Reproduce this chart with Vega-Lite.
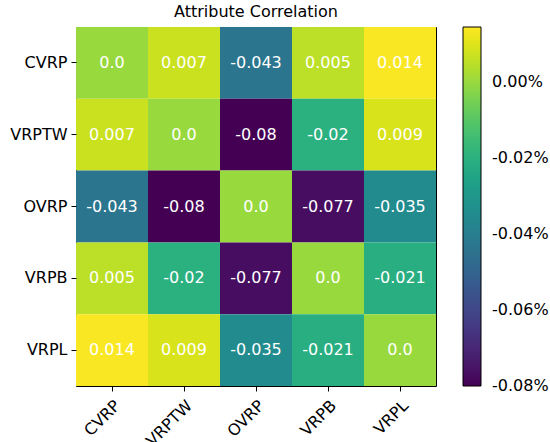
{
  "$schema": "https://vega.github.io/schema/vega-lite/v6.json",
  "width": 360,
  "height": 359,
  "autosize": "none",
  "padding": {"left": 76, "top": 27, "right": 114, "bottom": 56},
  "title": {"text": "Attribute Correlation", "fontSize": 16, "fontWeight": "normal", "font": "DejaVu Sans", "color": "black", "offset": 7},
  "config": {
    "font": "DejaVu Sans",
    "view": {"stroke": "black", "strokeWidth": 1}
  },
  "data": {
    "values": [
      {"row": "CVRP", "col": "CVRP", "v": 0.0},
      {"row": "CVRP", "col": "VRPTW", "v": 0.007},
      {"row": "CVRP", "col": "OVRP", "v": -0.043},
      {"row": "CVRP", "col": "VRPB", "v": 0.005},
      {"row": "CVRP", "col": "VRPL", "v": 0.014},
      {"row": "VRPTW", "col": "CVRP", "v": 0.007},
      {"row": "VRPTW", "col": "VRPTW", "v": 0.0},
      {"row": "VRPTW", "col": "OVRP", "v": -0.08},
      {"row": "VRPTW", "col": "VRPB", "v": -0.02},
      {"row": "VRPTW", "col": "VRPL", "v": 0.009},
      {"row": "OVRP", "col": "CVRP", "v": -0.043},
      {"row": "OVRP", "col": "VRPTW", "v": -0.08},
      {"row": "OVRP", "col": "OVRP", "v": 0.0},
      {"row": "OVRP", "col": "VRPB", "v": -0.077},
      {"row": "OVRP", "col": "VRPL", "v": -0.035},
      {"row": "VRPB", "col": "CVRP", "v": 0.005},
      {"row": "VRPB", "col": "VRPTW", "v": -0.02},
      {"row": "VRPB", "col": "OVRP", "v": -0.077},
      {"row": "VRPB", "col": "VRPB", "v": 0.0},
      {"row": "VRPB", "col": "VRPL", "v": -0.021},
      {"row": "VRPL", "col": "CVRP", "v": 0.014},
      {"row": "VRPL", "col": "VRPTW", "v": 0.009},
      {"row": "VRPL", "col": "OVRP", "v": -0.035},
      {"row": "VRPL", "col": "VRPB", "v": -0.021},
      {"row": "VRPL", "col": "VRPL", "v": 0.0}
    ]
  },
  "transform": [
    {"calculate": "datum.v == 0 ? '0.0' : toString(datum.v)", "as": "label"}
  ],
  "encoding": {
    "x": {
      "field": "col", "type": "nominal",
      "sort": ["CVRP", "VRPTW", "OVRP", "VRPB", "VRPL"],
      "scale": {"paddingInner": 0, "paddingOuter": 0},
      "axis": {
        "title": null, "labelAngle": -45, "labelAlign": "right", "labelBaseline": "top",
        "labelFontSize": 16, "labelColor": "black", "tickColor": "black", "tickSize": 5,
        "domain": false, "labelPadding": 6, "labelDx": -2
      }
    },
    "y": {
      "field": "row", "type": "nominal",
      "sort": ["CVRP", "VRPTW", "OVRP", "VRPB", "VRPL"],
      "scale": {"paddingInner": 0, "paddingOuter": 0},
      "axis": {
        "title": null, "labelFontSize": 16, "labelColor": "black", "tickColor": "black",
        "tickSize": 5, "domain": false, "labelPadding": 4
      }
    }
  },
  "layer": [
    {
      "mark": {"type": "rect"},
      "encoding": {
        "color": {
          "field": "v", "type": "quantitative",
          "scale": {"scheme": "viridis", "domain": [-0.08, 0.0145]},
          "legend": {
            "title": null,
            "orient": "none",
            "legendX": 387,
            "legendY": 0,
            "direction": "vertical",
            "gradientLength": 359,
            "gradientThickness": 18,
            "gradientStrokeColor": "black",
            "gradientStrokeWidth": 1,
            "values": [0, -0.02, -0.04, -0.06, -0.08],
            "labelExpr": "replace(format(datum.value, '.2f'), '\u2212', '-') + '%'",
            "labelFontSize": 16,
            "labelColor": "black",
            "labelOffset": 11,
            "labelOverlap": false,
            "encode": {"labels": {"update": {"baseline": {"value": "middle"}}}}
          }
        }
      }
    },
    {
      "mark": {"type": "text", "color": "white", "fontSize": 16},
      "encoding": {"text": {"field": "label"}}
    }
  ]
}
